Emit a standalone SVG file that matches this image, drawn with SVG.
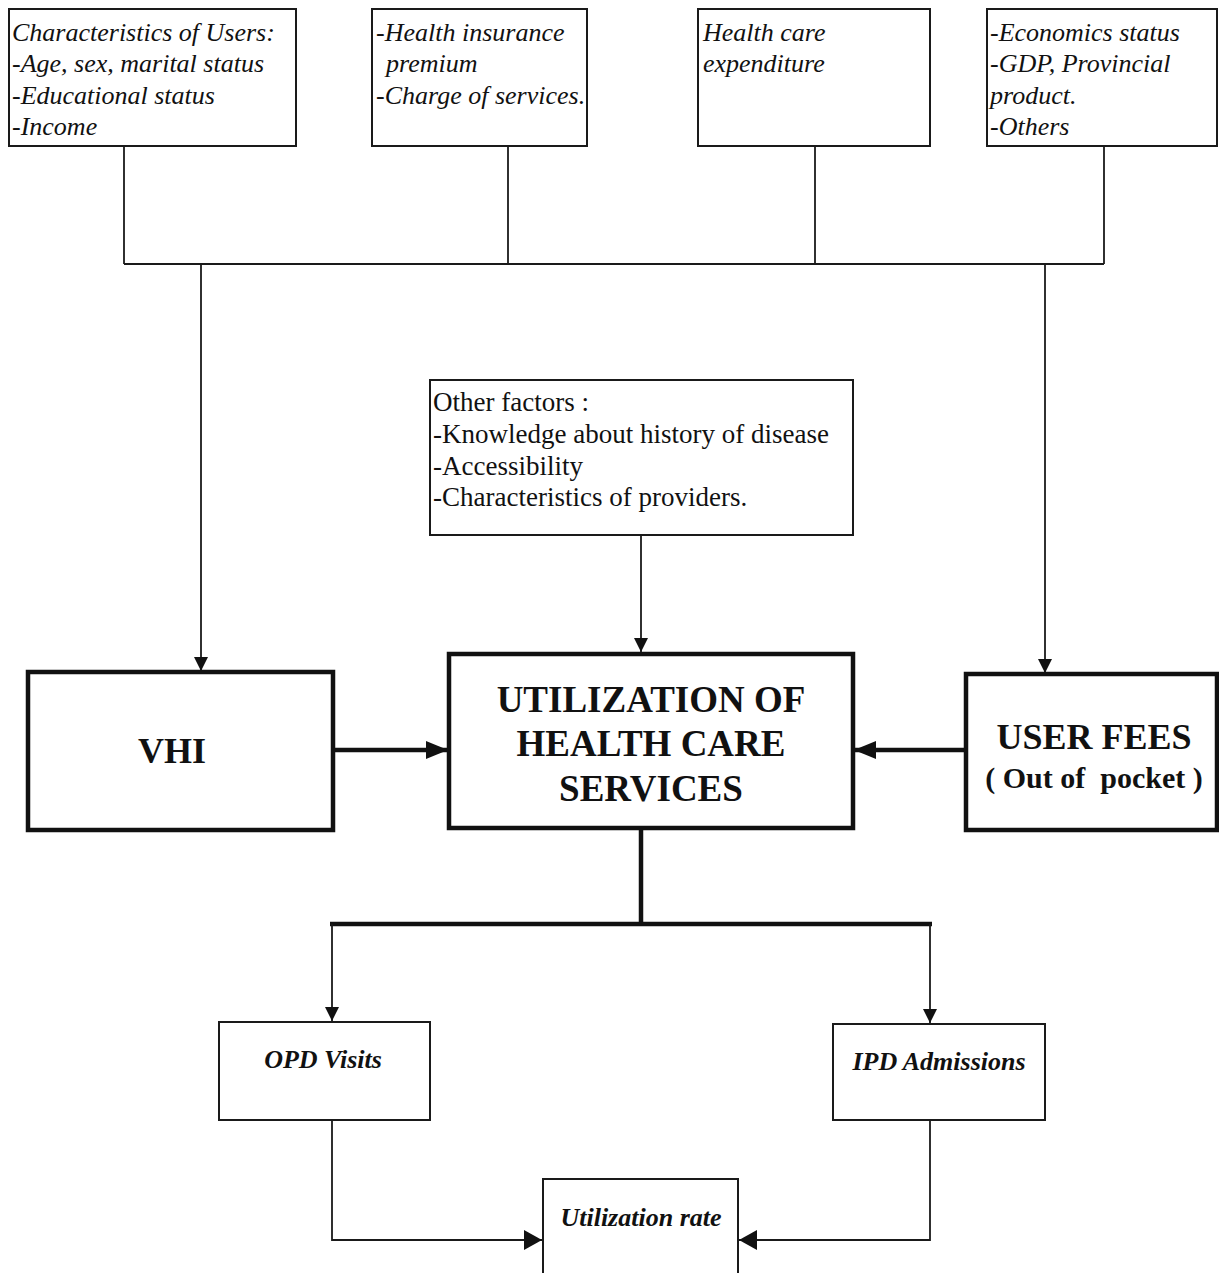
<svg xmlns="http://www.w3.org/2000/svg" width="1219" height="1273" viewBox="0 0 1219 1273">
<defs>
<marker id="arrThin" markerUnits="userSpaceOnUse" markerWidth="14" markerHeight="16" refX="14" refY="7" orient="auto"><path d="M0,0 L14,7 L0,14 Z" fill="#111"/></marker>
<marker id="arrThick" markerUnits="userSpaceOnUse" markerWidth="22" markerHeight="20" refX="22" refY="9" orient="auto"><path d="M0,0 L22,9 L0,18 Z" fill="#111"/></marker>
<marker id="arrMed" markerUnits="userSpaceOnUse" markerWidth="18" markerHeight="22" refX="18" refY="10" orient="auto"><path d="M0,0 L18,10 L0,20 Z" fill="#111"/></marker>
</defs>
<style>
.bg{fill:#ffffff}
.box{fill:#fff;stroke:#1a1a1a;stroke-width:2}
.tbox{fill:#fff;stroke:#111;stroke-width:4.5}
.ln{fill:none;stroke:#1a1a1a;stroke-width:1.8}
.tk{fill:none;stroke:#111;stroke-width:4.5}
.it{font-family:"Liberation Serif","Times New Roman",serif;font-style:italic;font-size:26px;fill:#111}
.rg{font-family:"Liberation Serif","Times New Roman",serif;font-size:27px;fill:#111}
.bd{font-family:"Liberation Serif","Times New Roman",serif;font-weight:bold;font-size:36px;fill:#111;text-anchor:middle}
.bi{font-family:"Liberation Serif","Times New Roman",serif;font-weight:bold;font-style:italic;font-size:26px;fill:#111;text-anchor:middle}
</style>
<rect class="bg" x="0" y="0" width="1219" height="1273"/>

<g id="connectors">
<path class="ln" d="M124,146 V264"/>
<path class="ln" d="M508,146 V264"/>
<path class="ln" d="M815,146 V264"/>
<path class="ln" d="M1104,146 V264"/>
<path class="ln" d="M124,264 H1104"/>
<path class="ln" d="M201,264 V671" marker-end="url(#arrThin)"/>
<path class="ln" d="M1045,264 V673" marker-end="url(#arrThin)"/>
<path class="ln" d="M641,535 V652" marker-end="url(#arrThin)"/>
<path class="tk" d="M333,750 H448" marker-end="url(#arrThick)"/>
<path class="tk" d="M966,750 H854" marker-end="url(#arrThick)"/>
<path class="tk" d="M641,828 V924"/>
<path class="tk" d="M330,924 H932"/>
<path class="ln" d="M332,924 V1021" marker-end="url(#arrThin)"/>
<path class="ln" d="M930,924 V1023" marker-end="url(#arrThin)"/>
<path class="ln" d="M332,1120 V1240 H542" marker-end="url(#arrMed)"/>
<path class="ln" d="M930,1120 V1240 H739" marker-end="url(#arrMed)"/>
</g>

<g id="node-users">
<rect class="box" x="9" y="9" width="287" height="137"/>
<text class="it" x="12" y="41">Characteristics of Users:</text>
<text class="it" x="12" y="72">-Age, sex, marital status</text>
<text class="it" x="12" y="104">-Educational status</text>
<text class="it" x="12" y="135">-Income</text>
</g>

<g id="node-premium">
<rect class="box" x="372" y="9" width="215" height="137"/>
<text class="it" x="376" y="41">-Health insurance</text>
<text class="it" x="386" y="72">premium</text>
<text class="it" x="376" y="104">-Charge of services.</text>
</g>

<g id="node-expenditure">
<rect class="box" x="698" y="9" width="232" height="137"/>
<text class="it" x="703" y="41">Health care</text>
<text class="it" x="703" y="72">expenditure</text>
</g>

<g id="node-economics">
<rect class="box" x="987" y="9" width="230" height="137"/>
<text class="it" x="990" y="41">-Economics status</text>
<text class="it" x="990" y="72">-GDP, Provincial</text>
<text class="it" x="990" y="104">product.</text>
<text class="it" x="990" y="135">-Others</text>
</g>

<g id="node-other">
<rect class="box" x="430" y="380" width="423" height="155"/>
<text class="rg" x="433" y="411">Other factors :</text>
<text class="rg" x="433" y="443">-Knowledge about history of disease</text>
<text class="rg" x="433" y="475">-Accessibility</text>
<text class="rg" x="433" y="506">-Characteristics of providers.</text>
</g>

<g id="node-vhi">
<rect class="tbox" x="28" y="672" width="305" height="158"/>
<text class="bd" x="172" y="763">VHI</text>
</g>

<g id="node-utilization">
<rect class="tbox" x="449" y="654" width="404" height="174"/>
<text class="bd" x="651" y="712" style="font-size:37px">UTILIZATION OF</text>
<text class="bd" x="651" y="756" style="font-size:37px">HEALTH CARE</text>
<text class="bd" x="651" y="801" style="font-size:37px">SERVICES</text>
</g>

<g id="node-userfees">
<rect class="tbox" x="966" y="674" width="251" height="156"/>
<text class="bd" x="1094" y="749">USER FEES</text>
<text class="bd" x="1094" y="788" style="font-size:30px;white-space:pre">( Out of  pocket )</text>
</g>

<g id="node-opd">
<rect class="box" x="219" y="1022" width="211" height="98"/>
<text class="bi" x="323" y="1068">OPD Visits</text>
</g>

<g id="node-ipd">
<rect class="box" x="833" y="1024" width="212" height="96"/>
<text class="bi" x="939" y="1070">IPD Admissions</text>
</g>

<g id="node-rate">
<rect class="box" x="543" y="1179" width="195" height="110"/>
<text class="bi" x="641" y="1226">Utilization rate</text>
</g>
</svg>
